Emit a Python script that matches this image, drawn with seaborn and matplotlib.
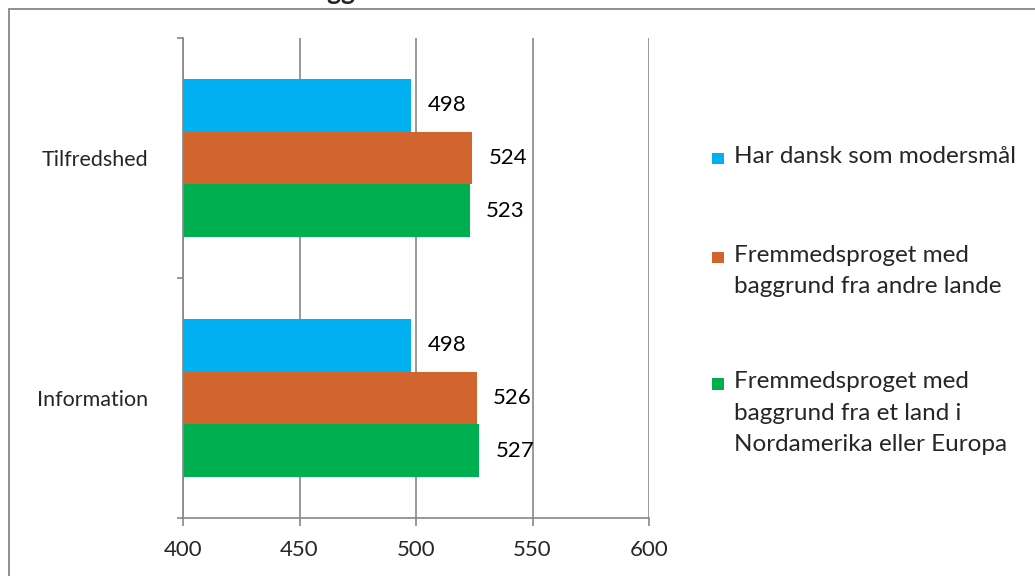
import pandas as pd
import matplotlib.pyplot as plt
import seaborn as sns
from matplotlib.patches import Patch, Rectangle
from matplotlib.legend_handler import HandlerPatch

# data
categories = ["Tilfredshed", "Information"]
groups = [
    "Har dansk som modersmål",
    "Fremmedsproget med\nbaggrund fra andre lande",
    "Fremmedsproget med\nbaggrund fra et land i\nNordamerika eller Europa",
]
dansk = [498, 498]
andre_lande = [524, 526]
nordamerika_europa = [523, 527]
x_ticks = [400, 450, 500, 550, 600]
colors = ["#00B0F0", "#D2652D", "#00B050"]

df = pd.DataFrame({
    "kategori": categories * 3,
    "gruppe": [g for g in groups for _ in categories],
    "score": dansk + andre_lande + nordamerika_europa,
})

sns.set_style("white")
plt.rcParams["font.family"] = ["Lato", "DejaVu Sans"]
grey = "#878787"
fs = 16

fig = plt.figure(figsize=(10.35, 5.76), dpi=100)
ax = fig.add_axes([183 / 1035, 58 / 576, (649 - 183) / 1035, (518 - 38) / 576])

sns.barplot(data=df, y="kategori", x="score", hue="gruppe", orient="h",
            palette=colors, saturation=1, width=0.66, linewidth=0,
            legend=False, ax=ax)

for cont in ax.containers:
    ax.bar_label(cont, fmt="%d", padding=12, fontsize=fs, color="black")

ax.set_xlim(x_ticks[0], x_ticks[-1])
ax.set_xticks(x_ticks)
ax.set_ylim(1.5, -0.5)
ax.set_xlabel("")
ax.set_ylabel("")

# category boundary ticks like the original
ax.set_yticks([-0.5, 0.5, 1.5], minor=True)
ax.tick_params(axis="y", which="major", length=0, pad=25, labelsize=15.5)
ax.tick_params(axis="y", which="minor", length=4.5, width=1.2, color=grey, direction="out", left=True)
ax.tick_params(axis="x", length=6, width=1.2, color=grey, direction="out", bottom=True, pad=10, labelsize=fs)

ax.xaxis.grid(True, color=grey, linewidth=1.2)
ax.yaxis.grid(False)
ax.set_axisbelow(True)
for side in ["top", "right"]:
    ax.spines[side].set_visible(False)
for side in ["left", "bottom"]:
    ax.spines[side].set_color(grey)
    ax.spines[side].set_linewidth(1.2)


# small square handle aligned to the first line of the label
def square(legend, orig_handle, xdescent, ydescent, width, height, fontsize):
    s = 0.48 * fontsize
    return Rectangle((-xdescent, -ydescent + (height - s) / 2), s, s)


handles = [Patch(facecolor=c, edgecolor="none") for c in colors]
leg = fig.legend(handles, groups, loc="upper left",
                 bbox_to_anchor=(712 / 1035, 1 - 146 / 576),
                 frameon=False, fontsize=17.5, handlelength=0.48, handleheight=1.2,
                 handletextpad=0.42, labelspacing=3.05, borderpad=0, borderaxespad=0,
                 handler_map={Patch: HandlerPatch(patch_func=square)})
for t in leg.get_texts():
    t.set_linespacing(1.6)
for col in leg._legend_handle_box.get_children():
    for item in col.get_children():
        item.align = "top"

# chart frame and title cut off at the top edge, as in the source image
fig.add_artist(Rectangle((9 / 1035, -0.1), 1.2, 1.1 - 9 / 576, transform=fig.transFigure,
                         fill=False, edgecolor=grey, linewidth=1.3, clip_on=False))
fig.text(22 / 1035, 1 - 0.5 / 576, "Resultater fordelt efter baggrund", fontsize=19,
         fontweight="bold", va="baseline")

fig.savefig("out.png", dpi=100)
